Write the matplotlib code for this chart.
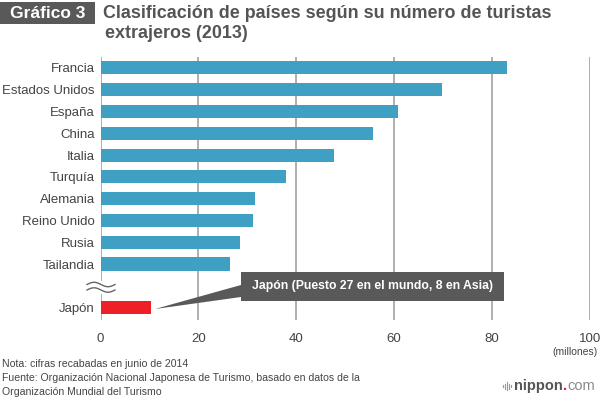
import numpy as np
import matplotlib
matplotlib.use("Agg")
import matplotlib.pyplot as plt
from matplotlib.patches import Rectangle, Polygon

plt.rcParams['font.family'] = ['Liberation Sans', 'DejaVu Sans']

# datos (millones de turistas, 2013)
paises = ["Francia", "Estados Unidos", "España", "China", "Italia", "Turquía",
          "Alemania", "Reino Unido", "Rusia", "Tailandia"]
turistas = [83.0, 69.8, 60.7, 55.7, 47.7, 37.8, 31.5, 31.2, 28.4, 26.5]
japon_label = "Japón"
japon_valor = 10.4
xticks = [0, 20, 40, 60, 80, 100]

azul = "#3fa0c3"
rojo = "#ee2027"
gris_txt = "#444444"
gris_caja = "#595959"

W, H = 600, 399
fig = plt.figure(figsize=(W / 100, H / 100), dpi=100)
ax = fig.add_axes([100.5 / W, 1 - 320 / H, (590 - 100.5) / W, (320 - 57) / H])

px = lambda xp, yp: (xp / W, 1 - yp / H)

y = np.arange(len(paises))
y_jp = len(paises) + 1
ax.barh(y, turistas, height=0.6, color=azul, zorder=3)
ax.barh([y_jp], [japon_valor], height=0.6, color=rojo, zorder=3)

ax.set_xlim(0, 100)
ax.set_ylim(y_jp + 0.57, -0.5)
ax.set_yticks(list(y) + [y_jp])
ax.set_yticklabels(paises + [japon_label])
ax.set_xticks(xticks)
ax.tick_params(axis='both', length=0, labelsize=9.5, labelcolor=gris_txt)
ax.tick_params(axis='x', pad=9)
ax.tick_params(axis='y', pad=4)
for s in ax.spines.values():
    s.set_visible(False)
ax.grid(axis='x', color="#9a9a9a", lw=1.1, zorder=1)
ax.grid(axis='y', visible=False)

# corte del eje (dos líneas onduladas)
fig.patches.append(Rectangle(px(97, 294), 6 / W, 13 / H, fc='white', ec='none',
                             transform=fig.transFigure, zorder=4))
xs = np.linspace(87, 115, 60)
for yc in (284.5, 290):
    ys = yc - 2.2 * np.sin((xs - 87) / 28 * 2 * np.pi)
    fig.add_artist(plt.Line2D(xs / W, 1 - ys / H, color="#666666", lw=1.0, zorder=5))

# "(millones)"
fig.text(598 / W, 1 - 352 / H, "(millones)", fontsize=7.5, color=gris_txt, ha='right', va='center')

# cuadro de anotación para Japón
fig.patches.append(Polygon([px(241, 285), px(241, 297), px(155, 309)], closed=True,
                           fc=gris_caja, ec='none', transform=fig.transFigure, zorder=5))
fig.patches.append(Rectangle(px(241, 300.5), (504 - 241) / W, 28.5 / H, fc=gris_caja, ec='none',
                             transform=fig.transFigure, zorder=5))
fig.text(*px(372, 286.5), "Japón (Puesto 27 en el mundo, 8 en Asia)", fontsize=8.8,
         fontweight='bold', color='white', ha='center', va='center', zorder=6)

# título
fig.patches.append(Rectangle(px(0, 24), 95 / W, 22 / H, fc=gris_caja, ec='none',
                             transform=fig.transFigure))
fig.text(*px(48, 13.5), "Gráfico 3", fontsize=12.5, fontweight='bold', color='white',
         ha='center', va='center')
fig.text(*px(103, 14), "Clasificación de países según su número de turistas", fontsize=12.9,
         fontweight='bold', color="#555555", ha='left', va='center')
fig.text(*px(105, 34), "extrajeros (2013)", fontsize=12.9, fontweight='bold', color="#555555",
         ha='left', va='center')

# notas
notas = ["Nota: cifras recabadas en junio de 2014",
         "Fuente: Organización Nacional Japonesa de Turismo, basado en datos de la",
         "Organización Mundial del Turismo"]
for i, t in enumerate(notas):
    fig.text(*px(2, 364 + 14 * i), t, fontsize=7.6, color=gris_txt, ha='left', va='center')

# logo
r = fig.canvas.get_renderer()
x0 = 514
for txt, col, fw in [("nippon", "#555555", 'bold'), (".", rojo, 'bold'), ("com", "#8a8a8a", 'normal')]:
    t = fig.text(*px(x0, 386), txt, fontsize=10.5, fontweight=fw, color=col, ha='left', va='center')
    x0 = t.get_window_extent(r).x1
for k in range(5):
    h = 4 - abs(k - 2) * 1.5
    fig.add_artist(plt.Line2D([(503 + k * 2) / W] * 2, [1 - (386 - h) / H, 1 - (386 + h) / H],
                              color="#999999", lw=0.8))

fig.savefig("out.png", dpi=100)
